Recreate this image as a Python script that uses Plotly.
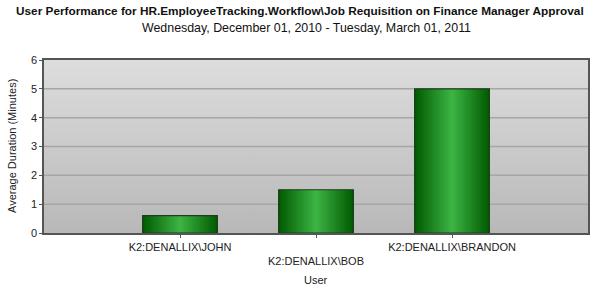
import plotly.graph_objects as go

title = "User Performance for HR.EmployeeTracking.Workflow\\Job Requisition on Finance Manager Approval"
subtitle = "Wednesday, December 01, 2010 - Tuesday, March 01, 2011"
users = ["K2:DENALLIX\\JOHN", "K2:DENALLIX\\BOB", "K2:DENALLIX\\BRANDON"]
durations = [0.6, 1.5, 5.0]
y_ticks = [0, 1, 2, 3, 4, 5, 6]

x_min, x_max = -1, len(users)
y_min, y_max = 0, 6
bar_w = 0.55

W, H = 600, 287
ML, MR, MT, MB = 44, 12, 60, 54
PH = H - MT - MB
PW = W - ML - MR

fig = go.Figure()

# gradient plot background
fig.add_trace(go.Scatter(
    x=[x_min, x_min, x_max, x_max, x_min], y=[y_min, y_max, y_max, y_min, y_min],
    mode="lines", line=dict(width=0), fill="toself",
    fillgradient=dict(type="vertical", start=y_min, stop=y_max,
                      colorscale=[[0, "#b8b8b8"], [1, "#dddddd"]]),
    hoverinfo="skip", showlegend=False))

# gridlines
gx, gy = [], []
for t in y_ticks[1:-1]:
    gx += [x_min, x_max, None]
    gy += [t, t, None]
fig.add_trace(go.Scatter(x=gx, y=gy, mode="lines",
                         line=dict(color="#a6a6a6", width=1.5),
                         hoverinfo="skip", showlegend=False))

# bars with horizontal gradient
for i, v in enumerate(durations):
    x0, x1 = i - bar_w / 2, i + bar_w / 2
    fig.add_trace(go.Scatter(
        x=[x0, x0, x1, x1, x0], y=[0, v, v, 0, 0],
        mode="lines", line=dict(color="#1e3d1e", width=1.2), fill="toself",
        fillgradient=dict(type="horizontal", start=x0, stop=x1,
                          colorscale=[[0, "#005a00"], [0.5, "#3db544"], [1, "#005a00"]]),
        hoverinfo="skip", showlegend=False))

ticktext = [("<br>" + u) if i % 2 == 1 else u for i, u in enumerate(users)]

def py(px):
    return (H - MB - px) / PH

def pxp(px):
    return (px - ML) / PW

fig.update_layout(
    width=W, height=H,
    margin=dict(l=ML, r=MR, t=MT, b=MB, autoexpand=False),
    paper_bgcolor="white", plot_bgcolor="#cccccc",
    font=dict(family="Liberation Sans, Arial, sans-serif", size=11, color="#222222"),
    showlegend=False,
    annotations=[
        dict(text="<b>" + title + "</b>", x=pxp(300), y=py(2), xref="paper", yref="paper",
             xanchor="center", yanchor="top", showarrow=False,
             font=dict(size=11.8, color="#111111")),
        dict(text=subtitle, x=pxp(306), y=py(19), xref="paper", yref="paper",
             xanchor="center", yanchor="top", showarrow=False,
             font=dict(size=12.4, color="#111111")),
        dict(text="User", x=pxp(316), y=py(272), xref="paper", yref="paper",
             xanchor="center", yanchor="top", showarrow=False,
             font=dict(size=11, color="#222222")),
        dict(text="Average Duration (Minutes)", x=pxp(12), y=py(146), xref="paper", yref="paper",
             xanchor="center", yanchor="middle", showarrow=False, textangle=-90,
             font=dict(size=11, color="#222222")),
    ],
)

fig.update_xaxes(
    range=[x_min, x_max], tickmode="array", tickvals=list(range(len(users))),
    ticktext=ticktext, showgrid=False, zeroline=False, automargin=False,
    showline=True, linecolor="#555555", linewidth=1.5, mirror=True,
    ticks="outside", ticklen=3, tickcolor="#555555",
    tickfont=dict(size=11),
)
fig.update_yaxes(
    range=[y_min, y_max], tickmode="array", tickvals=y_ticks,
    showgrid=False, zeroline=False, automargin=False,
    showline=True, linecolor="#555555", linewidth=1.5, mirror=True,
    ticks="outside", ticklen=3, tickcolor="#555555",
    tickfont=dict(size=11),
)

fig.write_html("out.html")
